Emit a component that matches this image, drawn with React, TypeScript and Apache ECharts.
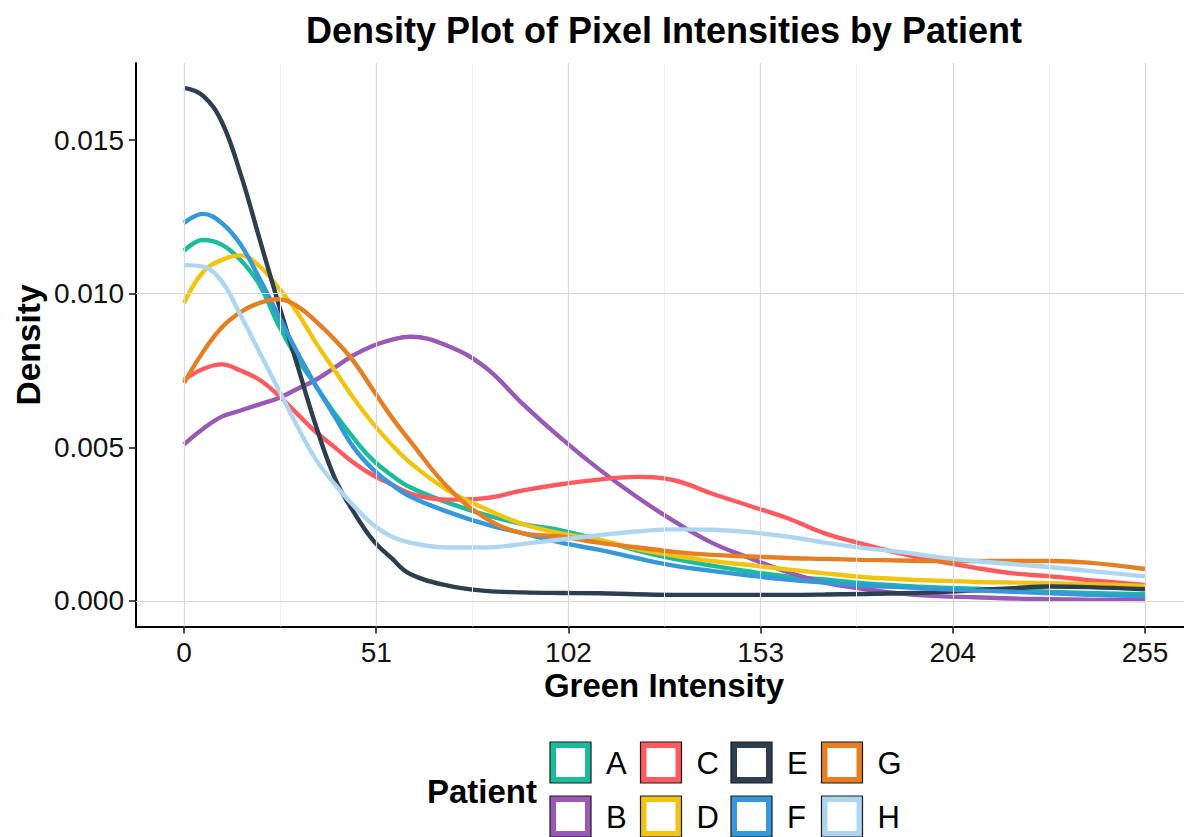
import React, { useEffect, useRef } from "react";
import * as echarts from "echarts";

const intensity = [0, 5, 10, 15, 20, 25, 30, 35, 40, 45, 50, 55, 60, 70, 80, 90, 100, 110, 120, 130, 140, 150, 160, 170, 180, 190, 200, 210, 220, 230, 240, 255];

const patients = ["A", "B", "C", "D", "E", "F", "G", "H"];
const colors = ["#1ABC9C", "#9B59B6", "#FF5A5F", "#F1C40F", "#2C3E50", "#3498DB", "#E67E22", "#AED6F1"];

const densityA = [0.0114, 0.01175, 0.0116, 0.0111, 0.0103, 0.009, 0.0079, 0.007, 0.0061, 0.0053, 0.0046, 0.0041, 0.0037, 0.0032, 0.0028, 0.0025, 0.0023, 0.002, 0.00165, 0.00137, 0.00115, 0.00096, 0.0008, 0.0007, 0.00058, 0.0005, 0.00044, 0.0004, 0.00035, 0.0003, 0.00026, 0.00022];
const densityB = [0.0051, 0.0056, 0.006, 0.0062, 0.0064, 0.0066, 0.0069, 0.0072, 0.0076, 0.008, 0.0083, 0.0085, 0.0086, 0.0083, 0.0076, 0.0064, 0.0053, 0.0043, 0.0034, 0.0026, 0.0019, 0.0014, 0.00095, 0.0006, 0.0004, 0.00024, 0.00016, 0.00012, 0.00008, 0.00006, 0.00004, 0.00003];
const densityC = [0.0072, 0.00755, 0.0077, 0.0075, 0.0072, 0.0067, 0.0061, 0.0055, 0.005, 0.0045, 0.0041, 0.0038, 0.0035, 0.0033, 0.00335, 0.0036, 0.0038, 0.00395, 0.00404, 0.00393, 0.0035, 0.0031, 0.0027, 0.0022, 0.00186, 0.00155, 0.0013, 0.00108, 0.0009, 0.0008, 0.00068, 0.00052];
const densityD = [0.0097, 0.0107, 0.0111, 0.01125, 0.0109, 0.0102, 0.0094, 0.0084, 0.0075, 0.0066, 0.0058, 0.0051, 0.0045, 0.0036, 0.003, 0.0025, 0.0022, 0.002, 0.0017, 0.00148, 0.0013, 0.00117, 0.00103, 0.0009, 0.00078, 0.00071, 0.00066, 0.00062, 0.0006, 0.00058, 0.00055, 0.00049];
const densityE = [0.0167, 0.01645, 0.0156, 0.0139, 0.0118, 0.0097, 0.0077, 0.0057, 0.004, 0.0029, 0.002, 0.0014, 0.00088, 0.0005, 0.00033, 0.00028, 0.00026, 0.00025, 0.00022, 0.0002, 0.0002, 0.0002, 0.0002, 0.00021, 0.00023, 0.00025, 0.00029, 0.00035, 0.00042, 0.00047, 0.00045, 0.00038];
const densityF = [0.0123, 0.0126, 0.0123, 0.0116, 0.0105, 0.0093, 0.0081, 0.007, 0.006, 0.005, 0.0043, 0.0038, 0.0034, 0.0029, 0.0025, 0.0022, 0.0019, 0.00167, 0.0014, 0.00115, 0.00098, 0.00083, 0.0007, 0.0006, 0.0005, 0.00045, 0.00039, 0.00034, 0.0003, 0.00025, 0.0002, 0.00015];
const densityG = [0.0071, 0.0081, 0.0089, 0.0094, 0.0097, 0.00982, 0.0096, 0.0091, 0.0085, 0.0078, 0.0069, 0.006, 0.0052, 0.0037, 0.0027, 0.0022, 0.0021, 0.0019, 0.00175, 0.0016, 0.0015, 0.00145, 0.0014, 0.00137, 0.00134, 0.00132, 0.0013, 0.0013, 0.0013, 0.0013, 0.00125, 0.00104];
const densityH = [0.01093, 0.01088, 0.0104, 0.0093, 0.0081, 0.0069, 0.0057, 0.0046, 0.0038, 0.0031, 0.0025, 0.0021, 0.0019, 0.00174, 0.00174, 0.00186, 0.002, 0.00214, 0.00226, 0.00233, 0.00232, 0.00224, 0.0021, 0.0019, 0.00173, 0.0016, 0.00143, 0.0013, 0.0012, 0.0011, 0.00098, 0.0008];

const densities = [densityA, densityB, densityC, densityD, densityE, densityF, densityG, densityH];

const xMajor = [0, 51, 102, 153, 204, 255];
const xMinor = [25.5, 76.5, 127.5, 178.5, 229.5];
const yMajor = [0, 0.005, 0.01, 0.015];
const yMinor = [0.0025, 0.0075, 0.0125];

const FONT = "'Liberation Sans', Arial, Helvetica, sans-serif";

export default function App() {
  const ref = useRef<HTMLDivElement>(null);

  useEffect(() => {
    if (!ref.current) return;
    const chart = echarts.init(ref.current, undefined, { renderer: "svg" });

    const gridSeries: any = {
      type: "line",
      data: [],
      z: 1,
      silent: true,
      markLine: {
        silent: true,
        symbol: ["none", "none"],
        animation: false,
        label: { show: false },
        emphasis: { disabled: true },
        data: [
          ...xMinor.map((v) => ({ xAxis: v, lineStyle: { color: "#F0F0F0", width: 1, type: "solid" } })),
          ...yMinor.map((v) => ({ yAxis: v, lineStyle: { color: "#F0F0F0", width: 1, type: "solid" } })),
          ...xMajor.map((v) => ({ xAxis: v, lineStyle: { color: "#DADADA", width: 1.2, type: "solid" } })),
          ...yMajor.map((v) => ({ yAxis: v, lineStyle: { color: "#DADADA", width: 1.2, type: "solid" } })),
        ],
      },
    };

    const lineSeries = patients.map((p, i) => ({
      name: p,
      type: "line",
      z: 2,
      smooth: 0.4,
      showSymbol: false,
      symbol: "none",
      clip: true,
      lineStyle: { color: colors[i], width: 4.4 },
      itemStyle: { color: colors[i] },
      data: intensity.map((x, j) => [x, densities[i][j]]),
    }));

    const legendGraphics: any[] = [];
    const colX = [550, 640.5, 731, 821.5];
    const rowY = [742, 796];
    patients.forEach((p, i) => {
      const col = Math.floor(i / 2);
      const row = i % 2;
      const x = colX[col];
      const y = rowY[row];
      legendGraphics.push({
        type: "rect",
        shape: { x, y, width: 41, height: 41 },
        style: { fill: colors[i], stroke: "#1a1a1a", lineWidth: 1.2 },
      });
      legendGraphics.push({
        type: "rect",
        shape: { x: x + 6, y: y + 6, width: 29, height: 29 },
        style: { fill: "#ffffff" },
      });
      legendGraphics.push({
        type: "text",
        x: x + 56,
        y: y + 21,
        style: {
          text: p,
          font: `31px ${FONT}`,
          fill: "#000",
          textAlign: "left",
          textVerticalAlign: "middle",
        },
      });
    });

    chart.setOption({
      animation: false,
      backgroundColor: "#ffffff",
      grid: { left: 136, top: 63, right: 0, bottom: 210.5, containLabel: false },
      xAxis: {
        type: "value",
        min: -12.75,
        max: 265.35,
        axisLine: { show: true, onZero: false, lineStyle: { color: "#000", width: 2 } },
        axisTick: { show: true, length: 7, lineStyle: { color: "#222", width: 1.6 }, customValues: xMajor },
        axisLabel: { customValues: xMajor, fontSize: 28, color: "#111", margin: 12, fontFamily: FONT },
        splitLine: { show: false },
      },
      yAxis: {
        type: "value",
        min: -0.00083,
        max: 0.01751,
        axisLine: { show: true, onZero: false, lineStyle: { color: "#000", width: 2 } },
        axisTick: { show: true, length: 7, lineStyle: { color: "#222", width: 1.6 }, customValues: yMajor },
        axisLabel: {
          customValues: yMajor,
          fontSize: 28,
          color: "#111",
          margin: 12,
          fontFamily: FONT,
          formatter: (v: number) => v.toFixed(3),
        },
        splitLine: { show: false },
      },
      series: [gridSeries, ...lineSeries],
      graphic: [
        {
          type: "text",
          x: 664,
          y: 30,
          style: {
            text: "Density Plot of Pixel Intensities by Patient",
            font: `bold 36px ${FONT}`,
            fill: "#000",
            textAlign: "center",
            textVerticalAlign: "middle",
          },
        },
        {
          type: "text",
          x: 664,
          y: 685,
          style: {
            text: "Green Intensity",
            font: `bold 33px ${FONT}`,
            fill: "#000",
            textAlign: "center",
            textVerticalAlign: "middle",
          },
        },
        {
          type: "text",
          x: 28,
          y: 345,
          rotation: Math.PI / 2,
          style: {
            text: "Density",
            font: `bold 33.5px ${FONT}`,
            fill: "#000",
            textAlign: "center",
            textVerticalAlign: "middle",
          },
        },
        {
          type: "text",
          x: 537,
          y: 791,
          style: {
            text: "Patient",
            font: `bold 33px ${FONT}`,
            fill: "#000",
            textAlign: "right",
            textVerticalAlign: "middle",
          },
        },
        ...legendGraphics,
      ],
    });

    return () => chart.dispose();
  }, []);

  return (
    <div
      ref={ref}
      style={{ position: "fixed", left: 0, top: 0, width: 1184, height: 837, background: "#fff" }}
    />
  );
}
